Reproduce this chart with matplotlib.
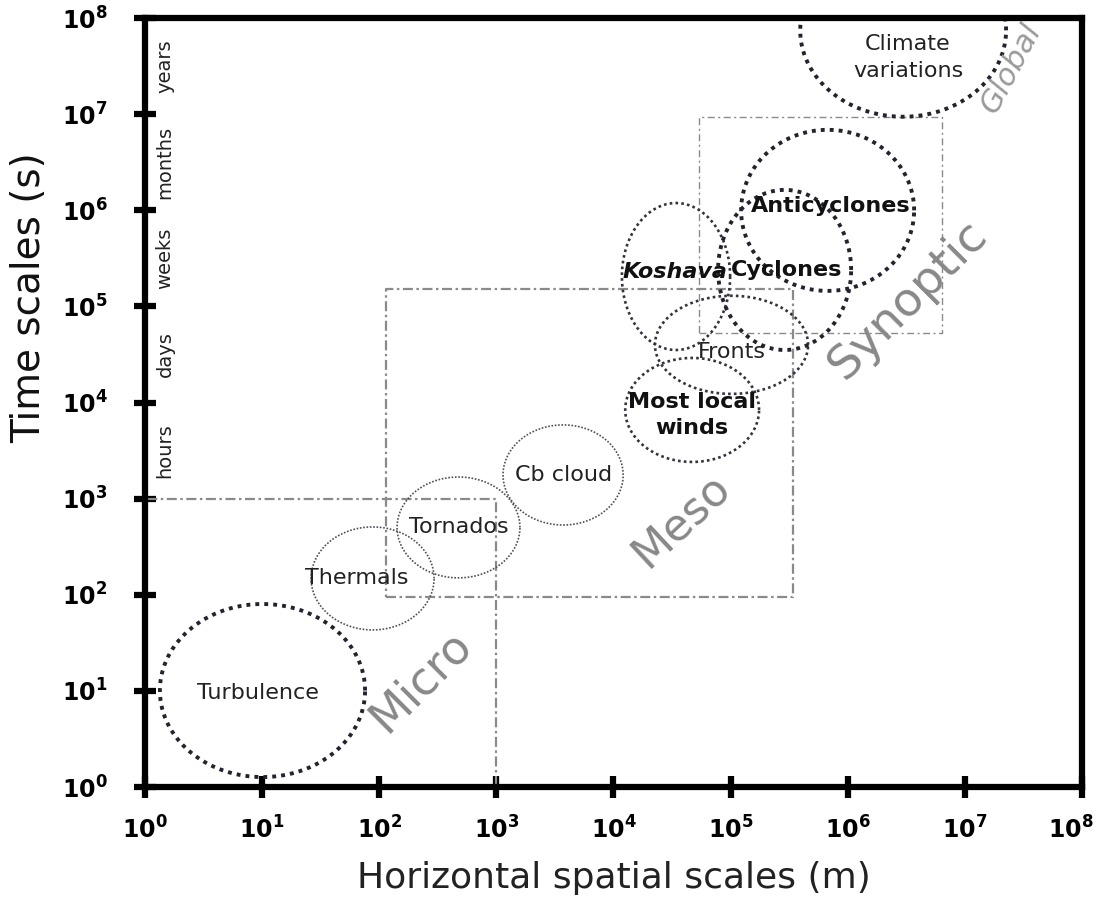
import numpy as np
import matplotlib
matplotlib.use("Agg")
import matplotlib.pyplot as plt
import matplotlib.transforms as mtransforms

# Phenomena: horizontal extent (m) and time extent (s)
names = ["Turbulence", "Thermals", "Tornados", "Cb cloud", "Most local\nwinds",
         "Fronts", "Koshava", "Cyclones", "Anticyclones", "Climate\nvariations"]
length_lo = [1.34, 26.2, 142, 1140, 12600, 22600, 11800, 78200, 123000, 393000]
length_hi = [75.7, 294, 1590, 12100, 175000, 459000, 99100, 1.07e6, 3.69e6, 2.25e7]
time_lo = [1.27, 43.1, 150, 532, 2410, 12300, 35200, 35200, 145000, 9.4e6]
time_hi = [80.2, 508, 1680, 5850, 29100, 129000, 1.19e6, 1.63e6, 6.87e6, 5.9e8]

# Scale regimes (dash-dot boxes)
regimes = ["Micro", "Meso", "Synoptic"]
regime_x = [(1, 1000), (115, 3.4e5), (5.4e4, 6.4e6)]
regime_t = [(1, 1000), (95, 1.5e5), (5.3e4, 9.4e6)]

time_units = ["hours", "days", "weeks", "months", "years"]
unit_decade = [3, 4, 5, 6, 7]

decades = list(range(9))

fig = plt.figure(figsize=(11.01, 9.06), dpi=100)
ax = fig.add_axes([0.1317, 0.1313, 0.851, 0.8488])
ax.set_xscale("log")
ax.set_yscale("log")
ax.set_xlim(1, 1e8)
ax.set_ylim(1, 1e8)

box_color = "#8a8a8a"
box_styles = {
    "Micro": dict(lw=1.6, ls=(0, (4.5, 1.6, 1.1, 1.6))),
    "Meso": dict(lw=1.6, ls=(0, (4.5, 1.6, 1.1, 1.6))),
    "Synoptic": dict(lw=1.0, ls=(0, (5, 2.5, 1.5, 2.5))),
}
for name, (x0, x1), (t0, t1) in zip(regimes, regime_x, regime_t):
    ax.plot([x0, x1, x1, x0, x0], [t0, t0, t1, t1, t0], color=box_color,
            zorder=2, **box_styles[name])

# ellipse outline styles: heavy, medium and fine dotting
heavy = dict(lw=2.8, ls=(0, (1, 1.3)), color="#23232f")
medium = dict(lw=1.9, ls=(0, (1, 1.2)), color="#33333f")
fine = dict(lw=1.2, ls=(0, (1, 1.0)), color="#50505a")
ellipse_style = {
    "Turbulence": heavy, "Climate\nvariations": heavy, "Anticyclones": heavy,
    "Cyclones": heavy, "Koshava": medium, "Fronts": medium,
    "Most local\nwinds": medium, "Thermals": fine, "Tornados": fine,
    "Cb cloud": fine,
}
# label offsets in points from the ellipse centre
nudge = {
    "Turbulence": (-3, -2), "Thermals": (-11.5, 0), "Most local\nwinds": (0, -3.5),
    "Fronts": (0, -5), "Koshava": (-1, 3.5), "Cyclones": (1.5, 0),
    "Anticyclones": (2, 3.5), "Climate\nvariations": (3.5, -19.5),
}
bold_names = {"Most local\nwinds", "Cyclones", "Anticyclones", "Koshava"}

theta = np.linspace(0, 2 * np.pi, 400)
for name, xl, xh, tl, th in zip(names, length_lo, length_hi, time_lo, time_hi):
    cx = (np.log10(xl) + np.log10(xh)) / 2
    rx = (np.log10(xh) - np.log10(xl)) / 2
    cy = (np.log10(tl) + np.log10(th)) / 2
    ry = (np.log10(th) - np.log10(tl)) / 2
    ax.plot(10 ** (cx + rx * np.cos(theta)), 10 ** (cy + ry * np.sin(theta)),
            zorder=3, **ellipse_style[name])
    ax.annotate(name, (10 ** cx, 10 ** cy), xytext=nudge.get(name, (0, 0)),
                textcoords="offset points", ha="center", va="center",
                fontsize=16, linespacing=1.4,
                fontweight="bold" if name in bold_names else "normal",
                fontstyle="italic" if name == "Koshava" else "normal",
                color="#111111" if name in bold_names else "#222222", zorder=4)

# regime names
region_color = "#888888"
ax.text(10 ** 2.36, 10 ** 1.1, "Micro", rotation=45, fontsize=33,
        color=region_color, ha="center", va="center", rotation_mode="anchor")
ax.text(10 ** 4.58, 10 ** 2.78, "Meso", rotation=43, fontsize=32,
        color=region_color, ha="center", va="center", rotation_mode="anchor")
ax.text(10 ** 6.52, 10 ** 5.07, "Synoptic", rotation=45, fontsize=34,
        color=region_color, ha="center", va="center", rotation_mode="anchor")
ax.text(10 ** 7.39, 10 ** 7.48, "Global", rotation=62, fontsize=22,
        style="italic", color="#9a9a9a", ha="center", va="center",
        rotation_mode="anchor")

# everyday time units beside the time axis
for unit, d in zip(time_units, unit_decade):
    ax.text(10 ** 0.17, 10 ** (d + 0.5), unit, rotation=90, fontsize=14,
            color="#222222", ha="center", va="center")

ticks = [10.0 ** d for d in decades]
labels = [r"$\mathbf{10^{%d}}$" % d for d in decades]
ax.set_xticks(ticks)
ax.set_xticklabels(labels)
ax.set_yticks(ticks)
ax.set_yticklabels(labels)
ax.minorticks_off()
ax.tick_params(direction="inout", length=16, width=4.5, color="black",
               labelsize=17)
ax.tick_params(axis="x", pad=13)
ax.tick_params(axis="y", pad=19)

# keep the last length label inside the figure
last = ax.get_xticklabels()[-1]
last.set_transform(last.get_transform() +
                   mtransforms.ScaledTranslation(-8 / 72, 0, fig.dpi_scale_trans))

for side in ["left", "bottom", "right", "top"]:
    ax.spines[side].set_linewidth(4.5)
    ax.spines[side].set_color("black")
    ax.spines[side].set_zorder(5)

ax.set_xlabel("Horizontal spatial scales (m)", fontsize=26, color="#222222",
              va="center")
ax.xaxis.set_label_coords(0.5, -0.118)
ax.set_ylabel("Time scales (s)", fontsize=28, color="#111111", va="center")
ax.yaxis.set_label_coords(-0.124, 0.637)

fig.savefig("out.png", dpi=100)
